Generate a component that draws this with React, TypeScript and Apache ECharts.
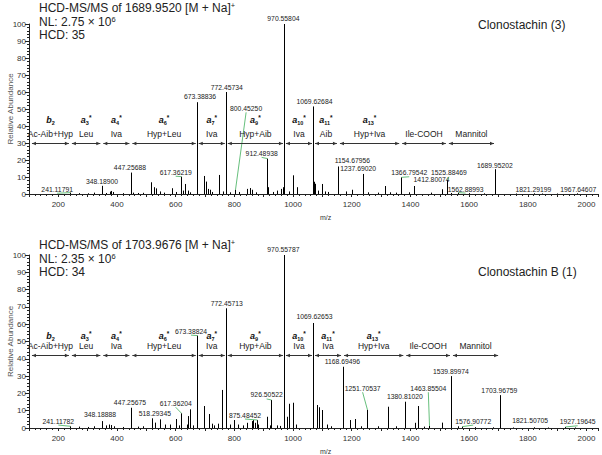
import React, { useEffect, useRef } from "react";
import * as echarts from "echarts";

const FONT = "'Liberation Sans', Arial, Helvetica, sans-serif";

const mzMin = 100;
const mzMax = 2040;

// ---------- Clonostachin (3) ----------
const topLabeledPeaks = [
  [241.11791, 0.8], [348.189, 4.8], [447.25688, 12.6], [617.36219, 10.2],
  [673.38836, 54], [772.45734, 60], [800.4525, 2.5], [912.48938, 20.8],
  [970.55804, 100], [1069.62684, 51.5], [1154.67956, 16.2], [1237.6902, 11.8],
  [1366.79542, 9.8], [1412.80074, 4.7], [1525.88469, 8.2], [1562.88993, 0.8],
  [1689.95202, 14.6], [1821.29199, 0.4], [1967.64607, 0.4],
];
// label centre [m/z, abundance, leader line]
const topLabelAnchors = [
  [196, 2.8, 1], [349, 7.6, 0], [444, 15.5, 0], [600, 12.8, 1],
  [683, 57.2, 0], [774, 62.8, 0], [840, 50.4, 1], [893, 23.9, 1],
  [967, 103.4, 0], [1073, 54.3, 0], [1202, 19.6, 0], [1222, 15.1, 0],
  [1396, 12.5, 1], [1472, 8.6, 0], [1531, 12.5, 1], [1588, 2.9, 1],
  [1688, 16.5, 0], [1819, 2.4, 0], [1972, 2.4, 0],
];
const topOtherPeaks = [
  [270, 0.5], [300, 0.4], [320, 0.8], [362, 0.6], [375, 1.4], [380, 1.8], [386, 1.2],
  [420, 0.5], [455, 0.8], [470, 0.6], [490, 0.7], [515, 6.9], [526, 4], [532, 3.3],
  [546, 1.5], [560, 0.8], [586, 3.4], [600, 1.2], [626, 2], [632, 5.9], [641, 2],
  [650, 1], [696, 10.6], [702, 7.3], [711, 3], [716, 2.5], [725, 1.2], [748, 11.2],
  [760, 1.5], [785, 1], [815, 1.2], [842, 3], [853, 3.5], [861, 2.5], [875, 1],
  [916, 4], [930, 1.2], [945, 2], [959, 3], [965, 4], [985, 1.5], [999, 11],
  [1012, 4], [1071.5, 7.2], [1076, 6], [1085, 2], [1098, 5.9], [1110, 1.5],
  [1120, 1.2], [1180, 1.5], [1200, 2.5], [1255, 1], [1290, 0.8], [1313, 4.7],
  [1330, 1], [1350, 0.8], [1395, 1], [1470, 0.8], [1507, 2.8], [1540, 0.6],
  [1600, 0.5], [1650, 0.4], [1760, 0.3], [1850, 0.3], [1900, 0.3],
];
const topBounds = [105, 241.1, 348.2, 447.3, 673.4, 772.5, 970.6, 1069.6, 1154.7, 1366.8, 1525.9, 1690.0];
const topResidues = ["Ac-Aib+Hyp", "Leu", "Iva", "Hyp+Leu", "Iva", "Hyp+Aib", "Iva", "Aib", "Hyp+Iva", "Ile-COOH", "Mannitol"];

// ---------- Clonostachin B (1) ----------
const bottomLabeledPeaks = [
  [241.11782, 1], [348.18888, 4], [447.25675, 11.7], [518.29345, 5.6],
  [617.36204, 8.5], [673.38824, 53.4], [772.45713, 69.2], [875.48452, 4.6],
  [926.50522, 16.2], [970.55787, 100], [1069.62653, 60.7], [1168.69496, 35.4],
  [1251.70537, 10.4], [1380.8102, 15.2], [1463.85504, 1.2], [1539.89974, 30],
  [1576.90772, 0.8], [1703.96759, 19], [1821.50705, 0.4], [1927.19645, 0.6],
];
const bottomLabelAnchors = [
  [200, 4.0, 1], [342, 7.9, 0], [444, 14.6, 0], [529, 8.5, 0],
  [600, 14.3, 1], [652, 56, 1], [774, 72, 0], [836, 7.5, 1],
  [910, 19.1, 1], [967, 103.3, 0], [1073, 64.3, 0], [1168, 38.3, 0],
  [1237, 23, 1], [1381, 18.1, 0], [1461, 23, 1], [1538, 32.5, 0],
  [1614, 4, 1], [1703, 21.4, 0], [1808, 4.6, 0], [1970, 3.6, 1],
];
const bottomOtherPeaks = [
  [270, 0.8], [300, 0.6], [320, 1], [362, 1.5], [372, 2], [378, 1.7], [390, 1],
  [420, 0.6], [470, 0.8], [490, 1], [529, 3.1], [546, 5], [563, 2], [580, 2],
  [600, 5.2], [610, 1.5], [637, 2], [643, 6.9], [649, 10.8], [660, 1.5],
  [698, 12.7], [713, 8.1], [723, 2.5], [730, 1.5], [745, 2.5], [759, 22],
  [785, 2], [800, 4.6], [813, 2], [830, 1.5], [842, 3], [860, 4], [864, 4.6],
  [870, 3], [881, 2], [910, 6.5], [921, 1.5], [944, 1.5], [955, 1.2], [978, 6.5],
  [985, 14], [999, 14.6], [1010, 2], [1083, 13.3], [1088, 12], [1098, 10.4],
  [1115, 2], [1130, 1], [1194, 4.6], [1211, 5.2], [1230, 1], [1290, 1],
  [1325, 12.3], [1350, 1], [1416, 3], [1427, 12.7], [1445, 0.8], [1507, 3.1],
  [1561, 1], [1620, 0.5], [1680, 0.4], [1750, 0.3], [1870, 0.3], [1960, 0.3],
];
const bottomBounds = [105, 241.1, 348.2, 447.3, 673.4, 772.5, 970.6, 1069.6, 1168.7, 1380.8, 1539.9, 1704.0];
const bottomResidues = ["Ac-Aib+Hyp", "Leu", "Iva", "Hyp+Leu", "Iva", "Hyp+Aib", "Iva", "Iva", "Hyp+Iva", "Ile-COOH", "Mannitol"];

const fragNames = [
  "{n|b}{s|2}", "{n|a}{s|3}{p|*}", "{n|a}{s|4}{p|*}", "{n|a}{s|6}{p|*}",
  "{n|a}{s|7}{p|*}", "{n|a}{s|9}{p|*}", "{n|a}{s|10}{p|*}", "{n|a}{s|11}{p|*}",
  "{n|a}{s|13}{p|*}", "", "",
];

const yTicks = { min: 0, max: 100, interval: 10 };

const panels = [
  {
    labeled: topLabeledPeaks, anchors: topLabelAnchors, others: topOtherPeaks,
    bounds: topBounds, residues: topResidues,
    arrowY: 30.2, resY: 35.3, fragY: 43.3,
    grid: { left: 29, top: 24, width: 569.2, height: 170 },
  },
  {
    labeled: bottomLabeledPeaks, anchors: bottomLabelAnchors, others: bottomOtherPeaks,
    bounds: bottomBounds, residues: bottomResidues,
    arrowY: 42.2, resY: 47.2, fragY: 53.2,
    grid: { left: 29, top: 255, width: 569.2, height: 173 },
  },
];

const INK = "#111";
const LEAD = "#3fae5a";

const fragRich = {
  n: { fontFamily: FONT, fontSize: 9, fontWeight: "bold", fontStyle: "italic", fill: INK, color: INK, lineHeight: 12 },
  s: { fontFamily: FONT, fontSize: 5.5, fontWeight: "bold", fill: INK, color: INK, lineHeight: 6, verticalAlign: "bottom" },
  p: { fontFamily: FONT, fontSize: 6.5, fontWeight: "bold", fill: INK, color: INK, lineHeight: 6, verticalAlign: "top" },
};

const titleRich = {
  a: { fontFamily: FONT, fontSize: 12, fill: "#222", lineHeight: 13 },
  s: { fontFamily: FONT, fontSize: 7.5, fill: "#222", lineHeight: 7, verticalAlign: "top" },
};

function titleText(x: number, y: number, text: string) {
  return {
    type: "text",
    x,
    y,
    silent: true,
    style: { text, rich: titleRich, verticalAlign: "middle", align: "left" },
  };
}

export default function App() {
  const ref = useRef<HTMLDivElement>(null);

  useEffect(() => {
    if (!ref.current) return;
    const chart = echarts.init(ref.current, undefined, { renderer: "svg" });

    const series: any[] = [];
    panels.forEach((p, i) => {
      const allPeaks = [...p.others, ...p.labeled];
      series.push({
        type: "custom",
        xAxisIndex: i,
        yAxisIndex: i,
        silent: true,
        clip: false,
        encode: { x: 0, y: 1 },
        data: allPeaks,
        renderItem: (_params: any, api: any) => {
          const mz = api.value(0);
          const ab = api.value(1);
          const p0 = api.coord([mz, 0]);
          const p1 = api.coord([mz, ab]);
          const x = Math.round(p0[0]) + 0.5;
          return {
            type: "line",
            shape: { x1: x, y1: p0[1], x2: x, y2: p1[1] },
            style: { stroke: "#000", lineWidth: 1 },
          };
        },
      });
      series.push({
        type: "custom",
        xAxisIndex: i,
        yAxisIndex: i,
        silent: true,
        clip: false,
        encode: { x: 0, y: 1 },
        data: p.labeled.map((d) => [d[0], d[1]]),
        renderItem: (params: any, api: any) => {
          const idx = params.dataIndex;
          const [mz, ab] = p.labeled[idx];
          const [lm, la, lead] = p.anchors[idx];
          const pc = api.coord([lm, la]);
          const pt = api.coord([mz, ab]);
          const children: any[] = [];
          if (lead) {
            children.push({
              type: "line",
              shape: { x1: pc[0], y1: pc[1] + 4, x2: Math.round(pt[0]) + 0.5, y2: pt[1] },
              style: { stroke: LEAD, lineWidth: 0.8 },
            });
          }
          children.push({
            type: "text",
            x: pc[0],
            y: pc[1],
            style: {
              text: mz.toFixed(5),
              fill: "#1a1a1a",
              font: `6.8px ${FONT}`,
              align: "center",
              verticalAlign: "middle",
            },
          });
          return { type: "group", children };
        },
      });
      const segs = p.bounds.slice(0, -1).map((b, k) => [b, p.bounds[k + 1]]);
      series.push({
        type: "custom",
        xAxisIndex: i,
        yAxisIndex: i,
        silent: true,
        clip: false,
        encode: { x: 0, y: 1 },
        data: segs,
        renderItem: (params: any, api: any) => {
          const k = params.dataIndex;
          const a = api.value(0);
          const b = api.value(1);
          const pa = api.coord([a, p.arrowY]);
          const pb = api.coord([b, p.arrowY]);
          const x1 = pa[0] + 1.5;
          const x2 = pb[0] - 1.5;
          const y = Math.round(pa[1]) + 0.5;
          const mid = (x1 + x2) / 2;
          const yr = api.coord([a, p.resY])[1];
          const yf = api.coord([a, p.fragY])[1];
          const children: any[] = [
            { type: "line", shape: { x1, y1: y, x2, y2: y }, style: { stroke: "#333", lineWidth: 1 } },
            {
              type: "polygon",
              shape: { points: [[x1, y], [x1 + 4, y - 1.8], [x1 + 4, y + 1.8]] },
              style: { fill: "#333" },
            },
            {
              type: "polygon",
              shape: { points: [[x2, y], [x2 - 4, y - 1.8], [x2 - 4, y + 1.8]] },
              style: { fill: "#333" },
            },
            {
              type: "text",
              x: mid,
              y: yr,
              style: {
                text: p.residues[k],
                fill: "#1a1a1a",
                font: `8.5px ${FONT}`,
                align: "center",
                verticalAlign: "middle",
              },
            },
          ];
          if (fragNames[k]) {
            children.push({
              type: "text",
              x: mid,
              y: yf,
              style: {
                text: fragNames[k],
                rich: fragRich,
                align: "center",
                verticalAlign: "middle",
              },
            });
          }
          return { type: "group", children };
        },
      });
    });

    const axisColor = "#222";
    const option: any = {
      animation: false,
      backgroundColor: "#fff",
      grid: panels.map((p) => ({ ...p.grid, containLabel: false, outerBoundsMode: "none" })),
      xAxis: panels.map((_p, i) => ({
        gridIndex: i,
        type: "value",
        min: mzMin,
        max: mzMax,
        interval: 100,
        axisLine: { show: true, onZero: false, lineStyle: { color: axisColor, width: 1 } },
        axisTick: { show: true, length: 3, lineStyle: { color: axisColor } },
        minorTick: { show: true, splitNumber: 5, length: 2, lineStyle: { color: axisColor } },
        splitLine: { show: false },
        axisLabel: {
          fontSize: 8,
          color: "#333",
          fontFamily: FONT,
          margin: 6,
          formatter: (v: number) => (v % 200 === 0 ? String(v) : ""),
        },
        name: "m/z",
        nameLocation: "middle",
        nameGap: 20,
        nameMoveOverlap: false,
        nameTextStyle: { fontSize: 7, color: "#333", fontFamily: FONT, padding: [0, 0, 0, 24] },
      })),
      yAxis: panels.map((_p, i) => ({
        gridIndex: i,
        type: "value",
        ...yTicks,
        axisLine: { show: true, onZero: false, lineStyle: { color: axisColor, width: 1 } },
        axisTick: { show: true, length: 4, lineStyle: { color: axisColor } },
        minorTick: { show: true, splitNumber: 5, length: 2, lineStyle: { color: axisColor } },
        splitLine: { show: false },
        axisLabel: { fontSize: 8, color: "#333", fontFamily: FONT, margin: 3 },
        name: "Relative Abundance",
        nameLocation: "middle",
        nameGap: 15,
        nameMoveOverlap: false,
        nameTextStyle: { fontSize: 8, color: "#555", fontFamily: FONT },
      })),
      series,
      graphic: [
        titleText(39, 8, "{a|HCD-MS/MS of 1689.9520 [M + Na]}{s|+}"),
        titleText(39, 21.5, "{a|NL: 2.75 × 10}{s|6}"),
        titleText(39, 34.5, "{a|HCD: 35}"),
        titleText(478, 25, "{a|Clonostachin (3)}"),
        titleText(39, 245, "{a|HCD-MS/MS of 1703.9676 [M + Na]}{s|+}"),
        titleText(39, 259, "{a|NL: 2.35 × 10}{s|6}"),
        titleText(39, 272, "{a|HCD: 34}"),
        titleText(478, 272, "{a|Clonostachin B (1)}"),
      ],
    };
    chart.setOption(option);
    return () => chart.dispose();
  }, []);

  return (
    <div
      ref={ref}
      style={{ position: "absolute", left: 0, top: 0, width: 602, height: 455, background: "#fff" }}
    />
  );
}
